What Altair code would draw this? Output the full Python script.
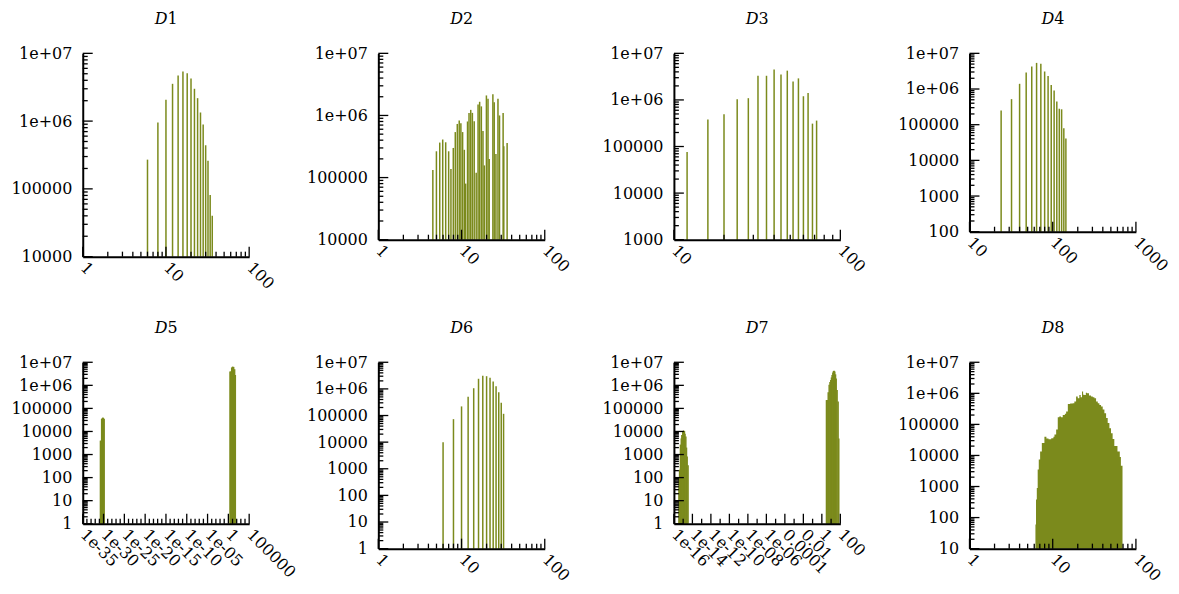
import math
import altair as alt
import pandas as pd

FONT = "DejaVu Serif"
OLIVE = "#7b8a1c"
INK = "black"

# ---------------- values ----------------
d1_x = [6, 8, 10, 12, 14, 16, 18, 20, 22, 24, 26, 28, 30, 32, 34, 36]
d1_y = [2.7e5, 9.5e5, 2.06e6, 3.55e6, 4.7e6, 5.4e6, 5.1e6, 4.25e6, 3.0e6, 2.18e6,
        1.34e6, 8.9e5, 4.4e5, 2.6e5, 8.1e4, 4.0e4]

d2_x = [4.52, 4.99, 5.47, 5.94, 6.45, 7.0, 7.46, 7.96, 8.41, 8.89, 9.38, 9.82, 10.3,
        10.8, 11.2, 11.8, 12.3, 12.9, 13.5, 14.2, 15.0, 15.8, 16.5, 17.3, 18.1, 18.8,
        19.9, 20.8, 21.5, 23.8, 24.7, 25.9, 27.4, 28.6, 31.6, 32.2, 35.3]
d2_y = [1.33e5, 2.65e5, 3.66e5, 4.1e5, 3.7e5, 2.65e5, 1.38e5, 3.0e5, 5.4e5, 7.3e5,
        8.3e5, 7.5e5, 5.4e5, 2.8e5, 8.0e4, 8.0e5, 1.1e6, 1.23e6, 1.1e6, 8.1e5,
        1.2e5, 1.5e6, 1.66e6, 1.4e6, 5.6e5, 1.57e5, 2.1e6, 1.85e6, 2.0e5, 2.2e6,
        1.63e6, 2.4e5, 1.85e6, 1.0e6, 1.1e6, 3.2e5, 3.6e5]

d3_x = [12, 16, 20, 24, 28, 32, 36, 40, 44, 48, 52, 56, 60, 64, 68, 72]
d3_y = [7.6e4, 3.8e5, 4.9e5, 1.03e6, 1.09e6, 3.3e6, 3.3e6, 4.5e6, 3.5e6, 4.25e6,
        2.5e6, 2.9e6, 1.2e6, 1.4e6, 3.1e5, 3.6e5]

d4_x = [24, 32, 40, 48, 56, 64, 72, 80, 88, 96, 104, 112, 120, 128, 136, 144]
d4_y = [2.5e5, 5.2e5, 1.4e6, 2.9e6, 4.3e6, 5.4e6, 5.1e6, 3.1e6, 2.3e6, 1.3e6,
        9.1e5, 4.5e5, 2.8e5, 2.7e5, 8.0e4, 4.1e4]

d5_x = [1.8e-31, 2.5e-31, 3.5e-31, 5e-31, 7.1e-31, 1e-30, 1.4e-30,
        2.5, 3.6, 6.3, 10.7, 18.6, 32, 47]
d5_y = [4000, 4000, 3.5e4, 3.8e4, 4e4, 3.8e4, 3.5e4,
        4e6, 4e6, 6e6, 6.5e6, 6.3e6, 5e6, 2.8e6]

d6_x = [6, 8, 10, 12, 14, 16, 18, 20, 22, 24, 26, 28, 30, 32]
d6_y = [1e4, 7.3e4, 2.2e5, 5.1e5, 1.06e6, 2.4e6, 3.1e6, 3.0e6, 2.6e6, 1.9e6,
        1.26e6, 7.5e5, 3.0e5, 1.16e5]

d7_x = [3.5e-16, 4.1e-16, 5.1e-16, 6.3e-16, 7.2e-16, 9.1e-16, 1.12e-15, 1.38e-15,
        1.58e-15, 1.95e-15, 2.3e-15, 2.7e-15, 3.4e-15,
        3.16, 3.8, 4.9, 6.2, 7.6, 9.3, 11, 12.9, 15.5, 18.2, 21.4, 25.1, 30.2, 35.5,
        44.7, 57.5, 67.6]
d7_y = [100, 220, 2700, 5000, 7000, 1e4, 1.1e4, 1.05e4, 8000, 6000, 2000, 830, 340,
        2.3e5, 2.3e5, 5e5, 1.05e6, 1.4e6, 1.7e6, 2.2e6, 2.8e6, 3.6e6, 4.2e6, 4.3e6,
        4e6, 3e6, 2e6, 6.3e5, 2e5, 5000]

d8_x = [6.2, 6.3, 6.44, 6.6, 6.8, 7.06, 7.4, 7.95, 8.4, 8.9, 9.6, 10.2, 10.5, 11.0,
        11.5, 12.0, 12.6, 13.2, 14.0, 14.5, 15.2, 16.2, 17.4, 18.2, 19.1, 20.0, 20.9,
        21.7, 22.5, 23.2, 24.0, 25.0, 25.9, 27.3, 28.9, 30.3, 31.7, 33.2, 34.8, 36.4,
        38.1, 39.9, 41.8, 43.8, 45.8, 48.0, 50.2, 52.5, 55.0, 60.0, 64.0, 66.0, 69.0]
d8_y = [60, 380, 900, 3500, 7400, 1.35e4, 2.5e4, 4e4, 3.5e4, 3.3e4, 3.6e4, 4e4, 4.7e4,
        6.8e4, 1.7e5, 1.8e5, 1.7e5, 2.0e5, 2.2e5, 2.6e5, 4.5e5, 4.7e5, 4.8e5, 5.5e5,
        7.9e5, 7.0e5, 8.9e5, 7.5e5, 1.14e6, 9.0e5, 8.9e5, 1.05e6, 1.0e6, 8.5e5, 7.9e5,
        7.5e5, 7.0e5, 5.5e5, 4.8e5, 4.2e5, 3.8e5, 3.0e5, 2.3e5, 1.6e5, 1.1e5, 7.5e4,
        5.2e4, 3.4e4, 2.0e4, 1.35e4, 9000, 4700, 4700]

# name, xs, ys, x decade range, x major step (decades), y decade range, plot height, kind
panels_def = [
    ("1", d1_x, d1_y, (0, 2), 1, (4, 7), 204, "rule"),
    ("2", d2_x, d2_y, (0, 2), 1, (4, 7), 187, "rule"),
    ("3", d3_x, d3_y, (1, 2), 1, (3, 7), 187, "rule"),
    ("4", d4_x, d4_y, (1, 3), 1, (2, 7), 179, "rule"),
    ("5", d5_x, d5_y, (-35, 5), 5, (0, 7), 162, "rule"),
    ("6", d6_x, d6_y, (0, 2), 1, (0, 7), 187, "rule"),
    ("7", d7_x, d7_y, (-16, 2), 2, (0, 7), 162, "rule"),
    ("8", d8_x, d8_y, (0, 2), 1, (1, 7), 187, "area"),
]

W = 167
MAJ, MIN = 10, 5


def lab_expr(exps):
    e = "round(log(datum.value)/LN10)"
    s = "".join(f"{e} == {k} ? '{'%g' % (10.0 ** k)}' : " for k in exps)
    return s + "''"


def minors_within(lo, hi):
    return [m * 10.0 ** e for e in range(lo, hi) for m in range(2, 10)]


def make_panel(name, xs, ys, xr, xstep, yr, h, kind):
    xlo, xhi = xr
    ylo, yhi = yr
    x_major_exp = list(range(xlo, xhi + 1, xstep))
    y_major_exp = list(range(ylo, yhi + 1))
    x_major = [10.0 ** k for k in x_major_exp]
    y_major = [10.0 ** k for k in y_major_exp]
    if xstep == 1:
        x_minor = minors_within(xlo, xhi)
    else:
        x_minor = [10.0 ** k for k in range(xlo, xhi + 1) if (k - xlo) % xstep]
    y_minor = minors_within(ylo, yhi)

    xsc = alt.Scale(type="log", domain=[10.0 ** xlo, 10.0 ** xhi], nice=False)
    ysc = alt.Scale(type="log", domain=[10.0 ** ylo, 10.0 ** yhi], nice=False)

    common = dict(ticks=False, grid=False, domainColor=INK, domainWidth=2,
                  labelFont=FONT, labelFontSize=16, labelColor=INK,
                  labelOverlap=False, labelFlush=False, title=None, zindex=1)
    xaxis = alt.Axis(values=x_major, labelExpr=lab_expr(x_major_exp), labelAngle=45,
                     labelAlign="left", labelBaseline="middle", labelPadding=8, **common)
    yaxis = alt.Axis(values=y_major, labelExpr=lab_expr(y_major_exp), labelAngle=0,
                     labelAlign="right", labelBaseline="middle", labelPadding=11, **common)

    df = pd.DataFrame({"x": xs, "y": ys, "base": [10.0 ** ylo] * len(xs)})
    enc = dict(x=alt.X("x:Q", scale=xsc, axis=xaxis),
               y=alt.Y("y:Q", scale=ysc, axis=yaxis),
               y2=alt.Y2("base:Q"))
    if kind == "area":
        bars = alt.Chart(df).mark_area(color=OLIVE, interpolate="step-after").encode(**enc)
    else:
        bars = alt.Chart(df).mark_rule(color=OLIVE, strokeWidth=1.5).encode(**enc)

    def xt(vals, L):
        return alt.Chart(pd.DataFrame({"x": vals})).mark_rule(color=INK, strokeWidth=1.3).encode(
            x=alt.X("x:Q", scale=xsc, axis=xaxis), y=alt.value(h), y2=alt.value(h - L))

    def yt(vals, L):
        return alt.Chart(pd.DataFrame({"y": vals})).mark_rule(color=INK, strokeWidth=1.3).encode(
            y=alt.Y("y:Q", scale=ysc, axis=yaxis), x=alt.value(0), x2=alt.value(L))

    one = pd.DataFrame({"a": [0]})
    tD = alt.Chart(one).mark_text(text="D", font=FONT, fontSize=16, fontStyle="italic",
                                  align="right", baseline="alphabetic", color=INK).encode(
        x=alt.value(W / 2 + 1.5), y=alt.value(-29))
    tN = alt.Chart(one).mark_text(text=name, font=FONT, fontSize=16,
                                  align="left", baseline="alphabetic", color=INK).encode(
        x=alt.value(W / 2 + 1.5), y=alt.value(-29))

    return alt.layer(bars, xt(x_major, MAJ), xt(x_minor, MIN), yt(y_major, MAJ),
                     yt(y_minor, MIN), tD, tN).properties(width=W, height=h)


panels = [make_panel(*p) for p in panels_def]

chart = alt.concat(*panels, columns=4, spacing={"row": 106, "column": 129.6},
                   bounds="flush", align="all", background="white",
                   padding={"left": 2, "top": 2.5, "right": 0, "bottom": 0}
                   ).configure_view(stroke=None)

chart.save("out.html", embed_options={"renderer": "svg", "actions": False})
